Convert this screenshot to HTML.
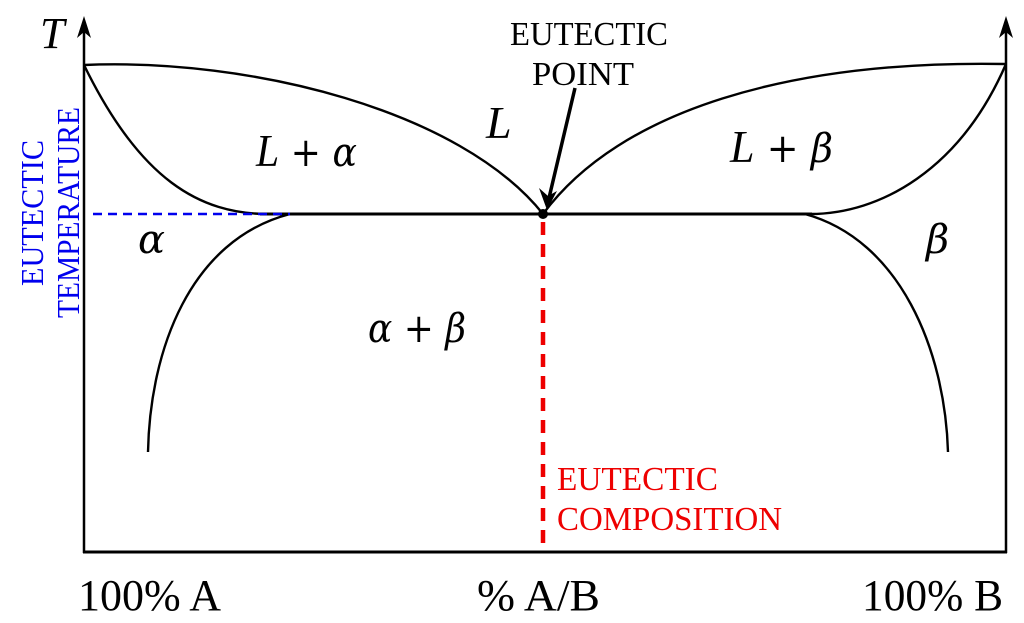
<!DOCTYPE html>
<html><head><style>html,body{margin:0;padding:0;background:#fff}svg{display:block}</style></head>
<body>
<svg width="1024" height="623" viewBox="0 0 1024 623" xmlns="http://www.w3.org/2000/svg">
<g fill="none" stroke="#000" stroke-width="2.5">
<line x1="84" y1="553" x2="84" y2="22"/>
<line x1="1006" y1="553" x2="1006" y2="22"/>
<line x1="83" y1="552" x2="1007" y2="552" stroke-width="3"/>
</g>
<path d="M77,38 L84,16 L91,38 L84,32 Z" fill="#000"/>
<path d="M999,38 L1006,16 L1013,38 L1006,32 Z" fill="#000"/>
<g fill="none" stroke="#000" stroke-width="2.4">
<path d="M84,65 C250,58 460,110 543,214"/>
<path d="M84,65 C140,180 200,214 268,214"/>
<line x1="260" y1="214" x2="812" y2="214" stroke-width="3"/>
<path d="M543,214 C620,110 790,60 1006,64"/>
<path d="M1006,64 C960,170 880,214 810,214"/>
<path d="M290,214 C190,240 150,350 148,452"/>
<path d="M805,214 C900,240 945,350 948,452"/>
</g>
<line x1="93" y1="214" x2="290" y2="214" stroke="#0000ee" stroke-width="2.5" stroke-dasharray="9,6"/>
<line x1="543" y1="222" x2="543" y2="552" stroke="#ee0000" stroke-width="4.5" stroke-dasharray="13,9"/>
<circle cx="543" cy="214" r="5" fill="#000"/>
<line x1="575" y1="88" x2="549" y2="198" stroke="#000" stroke-width="3.5"/>
<path d="M539,188 L547,210 L557,191 L548,196 Z" fill="#000"/>
<g font-family="'DejaVu Serif','Liberation Serif',serif" font-style="italic" font-size="40" fill="#000">
<text x="40" y="48" font-family="'Liberation Serif',serif" font-size="44">T</text>
<text x="256" y="166" textLength="101" lengthAdjust="spacingAndGlyphs"><tspan font-family="'Liberation Serif',serif" font-size="46">L</tspan> <tspan font-style="normal">+</tspan> α</text>
<text x="486" y="138" font-family="'Liberation Serif',serif" font-size="46">L</text>
<text x="730" y="162" textLength="103" lengthAdjust="spacingAndGlyphs"><tspan font-family="'Liberation Serif',serif" font-size="46">L</tspan> <tspan font-style="normal">+</tspan> β</text>
<text x="138" y="253">α</text>
<text x="926" y="253">β</text>
<text x="368" y="342" textLength="98" lengthAdjust="spacingAndGlyphs">α <tspan font-style="normal">+</tspan> β</text>
</g>
<g font-family="'Liberation Serif',serif" fill="#000">
<text x="510" y="45" font-size="34" textLength="158" lengthAdjust="spacingAndGlyphs">EUTECTIC</text>
<text x="532" y="85" font-size="34" textLength="102" lengthAdjust="spacingAndGlyphs">POINT</text>
<text x="78" y="610" font-size="44" textLength="143" lengthAdjust="spacingAndGlyphs">100% A</text>
<text x="477" y="610" font-size="44" textLength="123" lengthAdjust="spacingAndGlyphs">% A/B</text>
<text x="862" y="610" font-size="44" textLength="141" lengthAdjust="spacingAndGlyphs">100% B</text>
</g>
<g font-family="'Liberation Serif',serif" fill="#ee0000" font-size="34">
<text x="557" y="490" textLength="161" lengthAdjust="spacingAndGlyphs">EUTECTIC</text>
<text x="557" y="530" textLength="225" lengthAdjust="spacingAndGlyphs">COMPOSITION</text>
</g>
<g font-family="'Liberation Serif',serif" fill="#0000ee" font-size="32">
<text transform="translate(43,286) rotate(-90)" textLength="146" lengthAdjust="spacingAndGlyphs">EUTECTIC</text>
<text transform="translate(79,318) rotate(-90)" textLength="211" lengthAdjust="spacingAndGlyphs">TEMPERATURE</text>
</g>
</svg>
</body></html>
